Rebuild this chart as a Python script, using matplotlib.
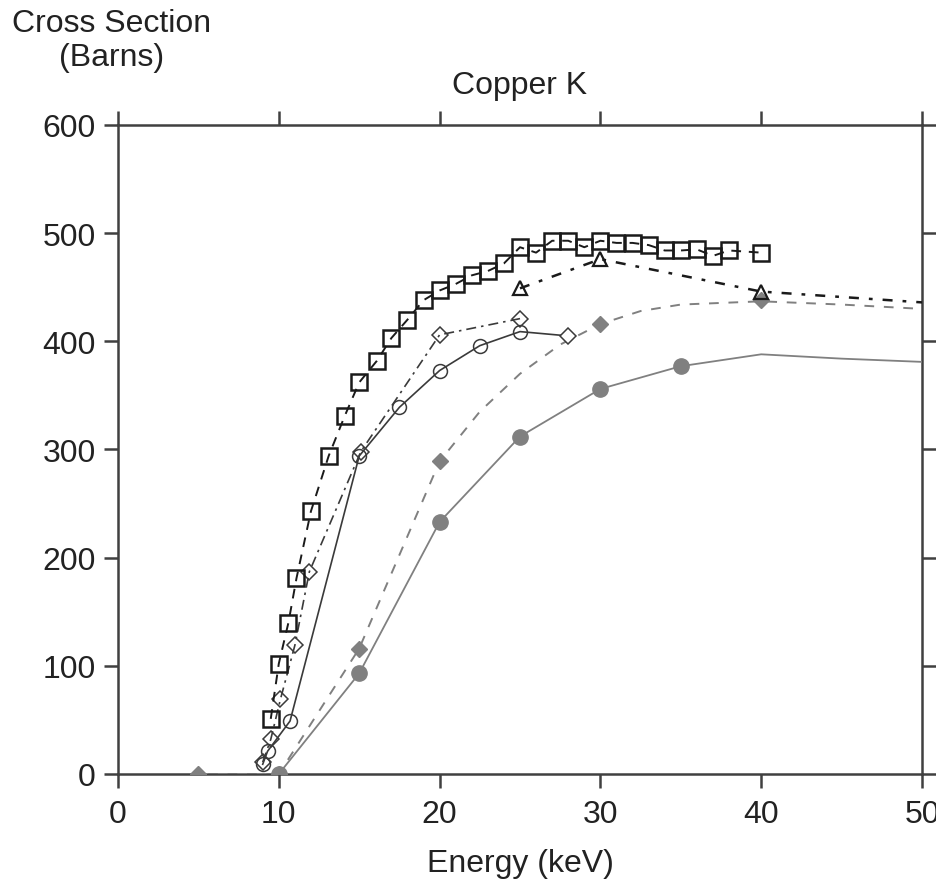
import matplotlib
matplotlib.use("Agg")
import matplotlib.pyplot as plt
from matplotlib import font_manager

# ---------------- data ----------------
# open squares (dashed black line)
sq_x = [9.5, 10.0, 10.6, 11.1, 12.0, 13.1, 14.1, 15.0, 16.1, 17.0, 18.0, 19.0, 20.0,
        21.0, 22.0, 23.0, 24.0, 25.0, 26.0, 27.0, 28.0, 29.0, 30.0, 31.0, 32.0, 33.0,
        34.0, 35.0, 36.0, 37.0, 38.0, 40.0]
sq_y = [51, 102, 140, 181, 243, 294, 331, 362, 382, 403, 420, 438, 447,
        453, 461, 465, 472, 487, 482, 493, 493, 487, 493, 491, 491, 489,
        484, 484, 485, 479, 484, 482]

# open triangles (dash-dot black line, continues to 50 without marker)
tri_x = [25, 30, 40, 50]
tri_y = [449, 476, 446, 436]
tri_marked = [0, 1, 2]

# open diamonds (dash-dot grey line)
od_x = [9.0, 9.5, 10.1, 11.0, 11.9, 15.1, 20.0, 25.0]
od_y = [11, 32, 69, 119, 187, 298, 406, 421]

# open circles (solid dark line, last point drawn as an open diamond)
oc_x = [9.0, 9.3, 10.7, 15.0, 17.5, 20.0, 22.5, 25.0, 28.0]
oc_y = [9, 21, 49, 294, 339, 373, 396, 409, 405]

# filled diamonds (dashed grey line)
fd_x = [5, 10, 15, 20, 30, 40]
fd_y = [0, 0, 116, 289, 416, 438]
fd_curve_x = [5, 10, 15, 20, 22.5, 25, 27.5, 30, 32.5, 35, 40, 45, 50]
fd_curve_y = [0, 0, 116, 289, 335, 370, 397, 416, 428, 434, 437, 434, 430]

# filled circles (solid grey line, continues to 50 without marker)
fc_x = [10, 15, 20, 25, 30, 35, 40, 45, 50]
fc_y = [0, 93, 233, 312, 356, 377, 388, 384, 381]
fc_marked = [0, 1, 2, 3, 4, 5]

x_ticks = [0, 10, 20, 30, 40, 50]
y_ticks = [0, 100, 200, 300, 400, 500, 600]

# ---------------- style ----------------
names = {f.name for f in font_manager.fontManager.ttflist}
fam = "Liberation Sans Narrow" if "Liberation Sans Narrow" in names else "Liberation Sans"
plt.rcParams["font.family"] = [fam, "DejaVu Sans"]

W, H = 936, 887
fig = plt.figure(figsize=(W / 100, H / 100), dpi=100)
L, R, B, T = 118, 922, 775, 126
ax = fig.add_axes([L / W, 1 - B / H, (R - L) / W, (B - T) / H])

blk = "#1a1a1a"
dk = "#3a3a3a"
gr = "#808080"

# filled circles
ax.plot(fc_x, fc_y, "-", color=gr, lw=1.3, marker="o", ms=11, mfc=gr, mec=gr,
        markevery=fc_marked, zorder=3)
# filled diamonds
ax.plot(fd_curve_x, fd_curve_y, "--", color=gr, lw=1.4, dashes=(5, 5), zorder=3)
ax.plot(fd_x, fd_y, "D", ms=8, mfc=gr, mec=gr, zorder=4)
# open circles
ax.plot(oc_x, oc_y, "-", color=dk, lw=1.2, marker="o", ms=10, mfc="none", mec=dk,
        mew=1.1, markevery=list(range(len(oc_x) - 1)), zorder=4)
ax.plot(oc_x[-1:], oc_y[-1:], "D", ms=8, mfc="white", mec=dk, mew=1.1, zorder=5)
# open diamonds
ax.plot(od_x, od_y, color=dk, lw=1.2, dashes=(6, 3, 1.5, 3), marker="D", ms=8,
        mfc="none", mec=dk, mew=1.1, zorder=4)
# triangles
ax.plot(tri_x, tri_y, color=blk, lw=1.8, dashes=(4, 4, 1.5, 4), marker="^", ms=10,
        mfc="none", mec=blk, mew=1.6, markevery=tri_marked, zorder=5)
# squares
ax.plot(sq_x, sq_y, color=blk, lw=1.4, dashes=(5, 4), marker="s", ms=11,
        mfc="none", mec=blk, mew=1.8, zorder=6)

ax.set_xlim(0, 50)
ax.set_ylim(0, 600)
ax.set_xticks(x_ticks)
ax.set_yticks(y_ticks)
for s in ax.spines.values():
    s.set_color("#404040")
    s.set_linewidth(1.8)
ax.tick_params(axis="both", which="both", direction="out", length=10, width=1.8,
               color="#404040", labelsize=23, labelcolor="#222222",
               top=True, right=True, labeltop=False, labelright=False)
ax.tick_params(axis="x", pad=8)
ax.tick_params(axis="y", pad=6)
ax.set_clip_on(False)

fig.text(112 / W, 1 - 24 / H, "Cross Section", ha="center", va="center",
         fontsize=23, color="#222222")
fig.text(112 / W, 1 - 58 / H, "(Barns)", ha="center", va="center",
         fontsize=23, color="#222222")
fig.text(520 / W, 1 - 86 / H, "Copper K", ha="center", va="center",
         fontsize=23, color="#222222")
fig.text(520 / W, 1 - 864 / H, "Energy (keV)", ha="center", va="center",
         fontsize=23, color="#222222")

fig.savefig("out.png", dpi=100)
